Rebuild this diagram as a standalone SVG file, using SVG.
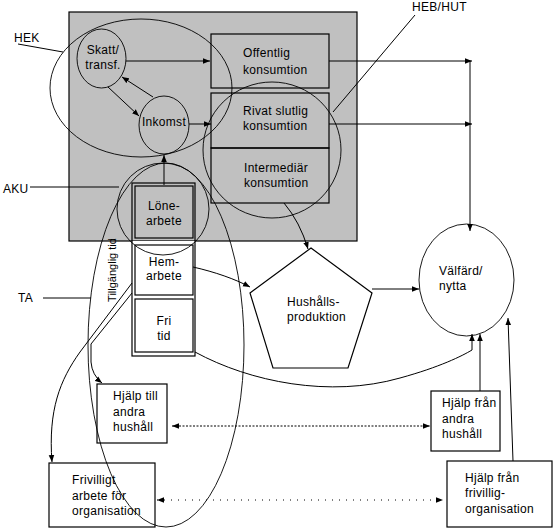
<svg xmlns="http://www.w3.org/2000/svg" width="554" height="530" viewBox="0 0 554 530">
<style>
text{font-family:"Liberation Sans",Arial,sans-serif;font-size:12px;fill:#000;letter-spacing:0.3px}
.box{fill:none;stroke:#000;stroke-width:1.2}
.el{fill:none;stroke:#000;stroke-width:0.9}
.ln{fill:none;stroke:#000;stroke-width:1}
.arr{fill:none;stroke:#000;stroke-width:1;marker-end:url(#ah)}
.dot1{fill:none;stroke:#000;stroke-width:1;stroke-dasharray:2 1.5;marker-start:url(#ah);marker-end:url(#ah)}
.dot2{fill:none;stroke:#000;stroke-width:1;stroke-dasharray:1 6;marker-start:url(#ah);marker-end:url(#ah)}
</style>
<defs>
<marker id="ah" viewBox="0 0 10 10" refX="10" refY="5" markerWidth="7" markerHeight="7" markerUnits="userSpaceOnUse" orient="auto-start-reverse">
<path d="M0,1 L10,5 L0,9 z" fill="#000"/>
</marker>
</defs>
<rect width="554" height="530" fill="#fff"/>
<g id="hushall-area">
<rect x="69" y="12" width="288" height="229" fill="#c0c0c0" stroke="#000" stroke-width="1.2"/>
</g>
<g id="offentlig"><rect class="box" x="211" y="34" width="118" height="54"/>
<text x="243" y="57">Offentlig</text><text x="243" y="74">konsumtion</text></g>
<g id="privat"><rect class="box" x="211" y="93" width="118" height="55"/>
<text x="243" y="115">Rivat slutlig</text><text x="243" y="130">konsumtion</text></g>
<g id="intermediar"><rect class="box" x="211" y="148" width="118" height="55"/>
<text x="244" y="172">Intermediär</text><text x="244" y="187">konsumtion</text></g>
<g id="tidskolumn">
<rect x="132" y="241" width="63" height="115" fill="#fff"/>
<rect class="box" x="132" y="183" width="63" height="173"/>
</g>
<g id="lonearbete"><rect class="box" x="135" y="186" width="58" height="52" fill="#c0c0c0"/>
<text x="164" y="210" text-anchor="middle">Löne-</text><text x="164" y="225" text-anchor="middle">arbete</text></g>
<g id="hemarbete"><rect class="box" x="135" y="245" width="58" height="50"/>
<text x="164" y="266" text-anchor="middle">Hem-</text><text x="164" y="280" text-anchor="middle">arbete</text></g>
<g id="fritid"><rect class="box" x="135" y="299" width="58" height="53"/>
<text x="164" y="325" text-anchor="middle">Fri</text><text x="164" y="340" text-anchor="middle">tid</text></g>
<g id="skatt"><ellipse class="el" cx="101.5" cy="58.5" rx="24.5" ry="29.5"/>
<text x="103" y="54" text-anchor="middle">Skatt/</text><text x="103" y="69" text-anchor="middle">transf.</text></g>
<g id="inkomst"><ellipse class="el" cx="164" cy="125" rx="25" ry="29"/>
<text x="164" y="126" text-anchor="middle">Inkomst</text></g>
<g id="hushallsproduktion"><polygon class="box" points="311,248 372,293 348,368 273,368 250,293" fill="#fff"/>
<text x="287" y="306">Hushålls-</text><text x="287" y="321">produktion</text></g>
<g id="valfard"><ellipse class="el" cx="466.5" cy="280" rx="47.5" ry="56"/>
<text x="439" y="275">Välfärd/</text><text x="439" y="290">nytta</text></g>
<g id="hjalp-till"><rect class="box" x="97" y="384" width="70" height="59" fill="#fff"/>
<text x="113" y="400">Hjälp till</text><text x="113" y="416">andra</text><text x="113" y="431">hushåll</text></g>
<g id="frivilligt"><rect class="box" x="49" y="463" width="106" height="64" fill="#fff"/>
<text x="72" y="484">Frivilligt</text><text x="72" y="500">arbete för</text><text x="72" y="515">organisation</text></g>
<g id="hjalp-fran-andra"><rect class="box" x="431" y="391" width="69" height="60" fill="#fff"/>
<text x="442" y="407">Hjälp från</text><text x="442" y="423">andra</text><text x="442" y="438">hushåll</text></g>
<g id="hjalp-fran-frivillig"><rect class="box" x="447" y="461" width="105" height="66" fill="#fff"/>
<text x="465" y="482">Hjälp från</text><text x="465" y="497">frivillig-</text><text x="465" y="513">organisation</text></g>
<g id="grupperingar">
<ellipse class="el" cx="141" cy="88" rx="91" ry="69"/>
<ellipse class="el" cx="272" cy="150" rx="69" ry="68"/>
<ellipse class="el" cx="163" cy="209" rx="46" ry="46"/>
<ellipse class="el" cx="166" cy="345" rx="78" ry="182"/>
</g>
<g id="etiketter">
<text x="14" y="42">HEK</text>
<text x="3" y="193">AKU</text>
<text x="18" y="302">TA</text>
<text x="412" y="11">HEB/HUT</text>
<text transform="translate(116,270) rotate(-90)" text-anchor="middle" style="font-size:11px;letter-spacing:0">Tillgänglig tid</text>
</g>
<g id="connectors">
<path class="ln" d="M18,44 L63,52"/>
<path class="ln" d="M30,187 H119"/>
<path class="ln" d="M43,298 H91"/>
<path class="ln" d="M415,15 L333,112"/>
<path class="arr" d="M126,61 H210"/>
<path class="arr" d="M108,87 L139,116"/>
<path class="arr" d="M153,97 L122,77"/>
<path class="arr" d="M189,124 H211"/>
<path class="arr" d="M164,185 V155"/>
<path class="arr" d="M329,61 H472"/>
<path class="arr" d="M329,124 H472"/>
<path class="arr" d="M470,61 V231"/>
<path class="arr" d="M284,203 Q300,222 308,249"/>
<path class="arr" d="M193,267 C215,272 235,279 250,287"/>
<path class="arr" d="M372,289 H419"/>
<path class="arr" d="M195,352 C250,382 330,398 400,378 C440,367 462,356 472,350 V334"/>
<path class="arr" d="M480,391 V334"/>
<path class="arr" d="M513,461 L508,318"/>
<path class="arr" d="M132,283 L80,352 C60,380 48,410 52,462"/>
<path class="arr" d="M132,293 L91,344 V362 Q92,375 102,383"/>
<path class="dot1" d="M172,426 H430"/>
<path class="dot2" d="M157,500 H443"/>
</g>
</svg>
